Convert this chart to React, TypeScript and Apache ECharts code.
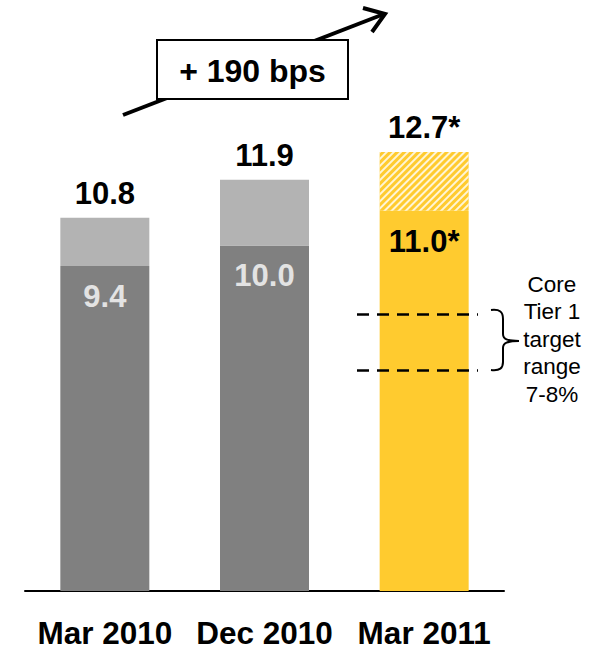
import React, { useEffect, useRef } from "react";
import * as echarts from "echarts";

const categories = ["Mar 2010", "Dec 2010", "Mar 2011"];
const totalValues = [10.8, 11.9, 12.7];
const coreValues = [9.4, 10.0, 11.0];
const labelSuffix = ["", "", "*"];
const targetLevels = [8.0, 6.4];
const changeLabel = "+ 190 bps";
const noteLines = ["Core", "Tier 1", "target", "range", "7-8%"];

const FONT = "'Liberation Sans', Arial, sans-serif";
const DARK = "#808080";
const LIGHT = "#b3b3b3";
const YELLOW = "#ffcb2f";

const bracePath =
  "M0,1 C9,0 12,3 12,10 L12,25 C12,30 16,32 28,32 C16,32 12,34 12,39 L12,53 C12,59 9,62 0,61";
echarts.graphic.registerShape("brace", echarts.graphic.extendPath(bracePath, {}) as any);

export default function App() {
  const ref = useRef<HTMLDivElement>(null);
  useEffect(() => {
    if (!ref.current) return;
    const chart = echarts.init(ref.current, null, { renderer: "svg" });
    const remainder = totalValues.map((t, i) => +(t - coreValues[i]).toFixed(2));
    const option: any = {
      animation: false,
      textStyle: { fontFamily: FONT },
      grid: { left: 25, right: 90, top: 38, bottom: 59 },
      xAxis: {
        type: "category",
        data: categories,
        axisLine: { lineStyle: { color: "#000", width: 2 } },
        axisTick: { show: false },
        axisLabel: {
          interval: 0,
          hideOverlap: false,
          fontSize: 31.5,
          fontWeight: "bold",
          color: "#000",
          margin: 26,
          fontFamily: FONT,
        },
      },
      yAxis: { type: "value", min: 0, max: 16, show: false, splitLine: { show: false } },
      series: [
        {
          type: "bar",
          stack: "a",
          barWidth: 89,
          data: coreValues.map((v, i) => ({
            value: v,
            itemStyle: { color: i === 2 ? YELLOW : DARK },
            label: { color: i === 2 ? "#000" : "#e3e3e3" },
          })),
          label: {
            show: true,
            position: "insideTop",
            distance: 15,
            fontSize: 31,
            fontWeight: "bold",
            fontFamily: FONT,
            formatter: (p: any) => p.value.toFixed(1) + labelSuffix[p.dataIndex],
          },
          markLine: {
            silent: true,
            symbol: "none",
            label: { show: false },
            lineStyle: { color: "#000", type: [12, 8], width: 2.5 },
            data: targetLevels.map((lv) => [
              { coord: [2, lv], x: 357 },
              { coord: [2, lv], x: 478 },
            ]),
          },
        },
        {
          type: "bar",
          stack: "a",
          barWidth: 89,
          data: remainder.map((v, i) => ({
            value: v,
            itemStyle:
              i === 2
                ? {
                    color: YELLOW,
                    decal: {
                      symbol: "rect",
                      symbolSize: 1,
                      dashArrayX: [1, 0],
                      dashArrayY: [2, 2.5],
                      rotation: -Math.PI / 4,
                      color: "rgba(255,255,255,0.8)",
                    },
                  }
                : { color: LIGHT },
          })),
          label: {
            show: true,
            position: "top",
            distance: 9,
            fontSize: 31,
            fontWeight: "bold",
            color: "#000",
            fontFamily: FONT,
            formatter: (p: any) => totalValues[p.dataIndex].toFixed(1) + labelSuffix[p.dataIndex],
          },
        },
      ],
      graphic: [
        {
          type: "line",
          z: 10,
          shape: { x1: 123, y1: 115, x2: 384, y2: 14 },
          style: { stroke: "#000", lineWidth: 4 },
        },
        {
          type: "polyline",
          z: 10,
          shape: { points: [[363, 8], [385, 14], [372, 32]] },
          style: { stroke: "#000", lineWidth: 4, fill: "none" },
        },
        {
          type: "rect",
          z: 11,
          shape: { x: 157, y: 40, width: 191, height: 59 },
          style: { fill: "#fff", stroke: "#000", lineWidth: 2 },
        },
        {
          type: "text",
          z: 12,
          x: 252.5,
          y: 71,
          style: {
            text: changeLabel,
            fontSize: 32,
            fontWeight: "bold",
            fontFamily: FONT,
            fill: "#000",
            align: "center",
            verticalAlign: "middle",
          },
        },
        {
          type: "brace",
          z: 10,
          x: 491,
          y: 309,
          style: { stroke: "#000", lineWidth: 2, fill: "none" },
        },
        {
          type: "text",
          z: 10,
          x: 552,
          y: 339,
          style: {
            text: noteLines.join("\n"),
            fontSize: 22.5,
            lineHeight: 27.5,
            fontFamily: FONT,
            fill: "#000",
            align: "center",
            verticalAlign: "middle",
          },
        },
      ],
    };
    chart.setOption(option);
    return () => chart.dispose();
  }, []);
  return (
    <div
      ref={ref}
      style={{ position: "fixed", left: 0, top: 0, width: 594, height: 650, background: "#fff" }}
    />
  );
}
